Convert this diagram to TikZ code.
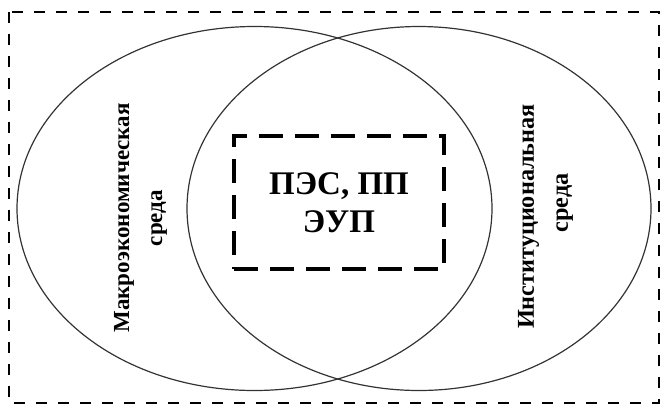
\documentclass[tikz,border=0pt]{standalone}
\usepackage{fontspec}
\setmainfont{Liberation Serif}
\usetikzlibrary{shapes.geometric}
\tikzset{
  frameline/.style={line width=2.3pt, dash pattern=on 11pt off 11pt},
  envellipse/.style={ellipse, draw=black!80, line width=1.2pt, inner sep=0pt},
  corebox/.style={draw, line width=3.2pt, dash pattern=on 24pt off 12pt, minimum width=210pt, minimum height=133pt, align=center, inner sep=0pt,
    font=\fontsize{33pt}{38pt}\selectfont\bfseries},
  sidelabel/.style={rotate=90, align=center, inner sep=0pt, font=\fontsize{23pt}{33pt}\selectfont\bfseries}
}
\begin{document}
\begin{tikzpicture}[x=1pt,y=-1pt]
\useasboundingbox (0,0) rectangle (661,405);
\draw[frameline] (9,12) rectangle (659,403);
\node[envellipse, minimum width=475pt, minimum height=364pt] (L) at (254.5,208.5) {};
\node[envellipse, minimum width=464pt, minimum height=364pt] (R) at (419,208.5) {};
\node[corebox] (C) at (339,202.5) {ПЭС, ПП\\ЭУП};
\node[sidelabel] (ML) at (140.5,218) {Макроэкономическая\\среда};
\node[sidelabel, font=\fontsize{24.2pt}{34pt}\selectfont\bfseries] (IL) at (545.5,216.5) {Институциональная\\\hspace*{27pt}среда};
\end{tikzpicture}
\end{document}
